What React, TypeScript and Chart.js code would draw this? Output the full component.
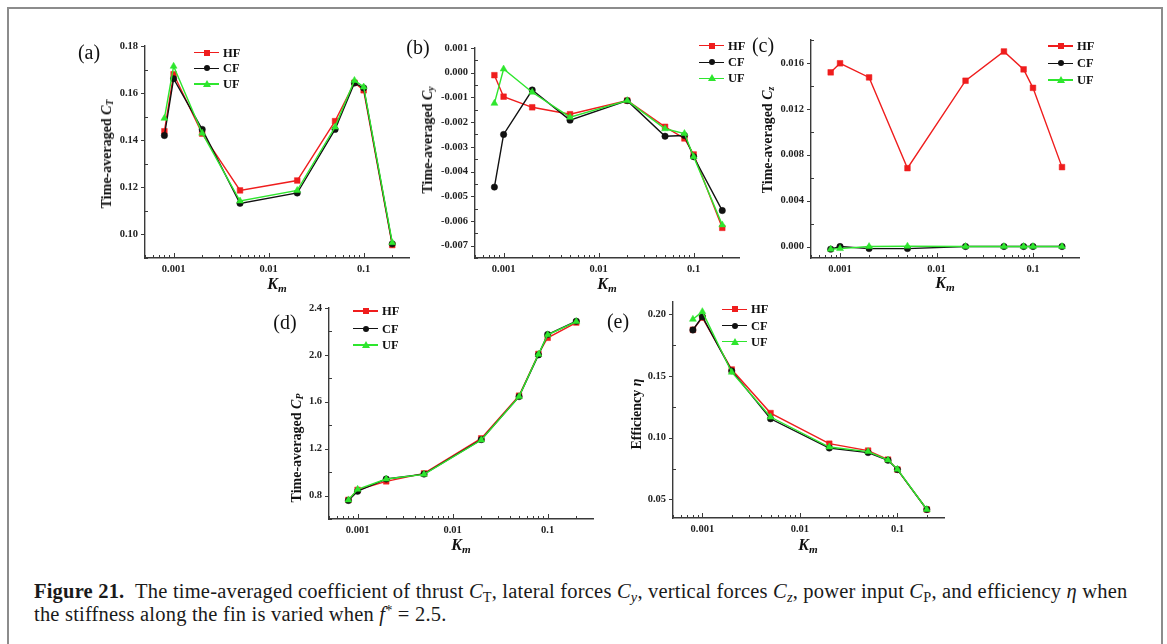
import React, { useEffect, useRef } from "react";
import { Chart, registerables } from "chart.js";

Chart.register(...registerables);

// ---------------- data ----------------
const km = [0.0008, 0.001, 0.002, 0.005, 0.02, 0.05, 0.08, 0.1, 0.2];
const seriesNames = ["HF", "CF", "UF"];

const ctHF = [0.1438, 0.168, 0.1428, 0.1187, 0.1229, 0.1481, 0.1644, 0.1612, 0.0955];
const ctCF = [0.142, 0.1661, 0.1446, 0.1132, 0.1176, 0.1446, 0.1643, 0.1622, 0.096];
const ctUF = [0.1493, 0.1714, 0.143, 0.1142, 0.1187, 0.1456, 0.1654, 0.1626, 0.0965];

const cyHF = [-0.0001, -0.00097, -0.0014, -0.00168, -0.00113, -0.00219, -0.00266, -0.00331, -0.00628];
const cyCF = [-0.00463, -0.0025, -0.0007, -0.00192, -0.00113, -0.00257, -0.00254, -0.0034, -0.00558];
const cyUF = [-0.00124, 0.00015, -0.00079, -0.0018, -0.00113, -0.00227, -0.00246, -0.0034, -0.00616];

const czHF = [0.01518, 0.01597, 0.01474, 0.00683, 0.01445, 0.017, 0.01544, 0.01383, 0.00692];
const czCF = [-0.00023, 0.0, -0.00018, -0.00018, 0.0, 0.0, 0.0, 0.0, 0.0];
const czUF = [-0.00023, -0.00018, 0.0, 0.00003, 0.0, 0.0, 0.0, 0.0, 0.0];

const cpHF = [0.763, 0.848, 0.921, 0.989, 1.288, 1.652, 2.008, 2.146, 2.276];
const cpCF = [0.758, 0.837, 0.941, 0.983, 1.277, 1.644, 2.0, 2.174, 2.287];
const cpUF = [0.763, 0.854, 0.941, 0.981, 1.274, 1.644, 2.005, 2.171, 2.284];

const etaHF = [0.1875, 0.1973, 0.1553, 0.12, 0.0952, 0.0896, 0.0823, 0.0742, 0.0419];
const etaCF = [0.1873, 0.1981, 0.1542, 0.1154, 0.0917, 0.088, 0.0818, 0.0742, 0.0419];
const etaUF = [0.196, 0.2022, 0.1531, 0.1168, 0.0925, 0.0888, 0.082, 0.0745, 0.0419];

// ---------------- ticks ----------------
const xMin = 0.0005;
const xMax = 0.3;
const xMajorTicks = [0.001, 0.01, 0.1];
const xMajorLabels = ["0.001", "0.01", "0.1"];
const xMinorTicks = [
  0.0005, 0.0006, 0.0007, 0.0008, 0.0009,
  0.002, 0.003, 0.004, 0.005, 0.006, 0.007, 0.008, 0.009,
  0.02, 0.03, 0.04, 0.05, 0.06, 0.07, 0.08, 0.09,
  0.2,
];

const ctYMajor = [0.1, 0.12, 0.14, 0.16, 0.18];
const ctYLabels = ["0.10", "0.12", "0.14", "0.16", "0.18"];
const ctYMinor = [0.09, 0.11, 0.13, 0.15, 0.17];

const cyYMajor = [-0.007, -0.006, -0.005, -0.004, -0.003, -0.002, -0.001, 0.0, 0.001];
const cyYLabels = ["-0.007", "-0.006", "-0.005", "-0.004", "-0.003", "-0.002", "-0.001", "0.000", "0.001"];
const cyYMinor = [-0.0075, -0.0065, -0.0055, -0.0045, -0.0035, -0.0025, -0.0015, -0.0005, 0.0005];

const czYMajor = [0.0, 0.004, 0.008, 0.012, 0.016];
const czYLabels = ["0.000", "0.004", "0.008", "0.012", "0.016"];
const czYMinor = [0.002, 0.006, 0.01, 0.014, 0.018];

const cpYMajor = [0.8, 1.2, 1.6, 2.0, 2.4];
const cpYLabels = ["0.8", "1.2", "1.6", "2.0", "2.4"];
const cpYMinor = [0.6, 1.0, 1.4, 1.8, 2.2];

const etaYMajor = [0.05, 0.1, 0.15, 0.2];
const etaYLabels = ["0.05", "0.10", "0.15", "0.20"];
const etaYMinor = [0.075, 0.125, 0.175];

// ---------------- styles ----------------
const RED = "#ef1d1d";
const BLACK = "#111111";
const GREEN = "#2ee62e";
const seriesColors = [RED, BLACK, GREEN];
const seriesPoint = ["rect", "circle", "triangle"];
const seriesRadius = [4, 3.2, 4];
const AXIS = "#3a3a3a";
const SERIF = "'Liberation Serif', 'DejaVu Serif', serif";

type Panel = {
  key: string;
  area: { l: number; t: number; r: number; b: number };
  yMin: number;
  yMax: number;
  yMajor: number[];
  yLabels: string[];
  yMinor: number[];
  data: number[][];
};

const panels: Panel[] = [
  { key: "a", area: { l: 145, t: 46, r: 409, b: 258 }, yMin: 0.09, yMax: 0.18, yMajor: ctYMajor, yLabels: ctYLabels, yMinor: ctYMinor, data: [ctHF, ctCF, ctUF] },
  { key: "b", area: { l: 475, t: 48, r: 739, b: 258 }, yMin: -0.0075, yMax: 0.001, yMajor: cyYMajor, yLabels: cyYLabels, yMinor: cyYMinor, data: [cyHF, cyCF, cyUF] },
  { key: "c", area: { l: 811, t: 40, r: 1079, b: 258 }, yMin: -0.001, yMax: 0.018, yMajor: czYMajor, yLabels: czYLabels, yMinor: czYMinor, data: [czHF, czCF, czUF] },
  { key: "d", area: { l: 329, t: 308, r: 593, b: 519 }, yMin: 0.6, yMax: 2.4, yMajor: cpYMajor, yLabels: cpYLabels, yMinor: cpYMinor, data: [cpHF, cpCF, cpUF] },
  { key: "e", area: { l: 673, t: 302, r: 944, b: 518 }, yMin: 0.035, yMax: 0.21, yMajor: etaYMajor, yLabels: etaYLabels, yMinor: etaYMinor, data: [etaHF, etaCF, etaUF] },
];

const PT = 14;
const PR = 16;
const YW = 70;
const XH = 26;

function ChartPanel({ p }: { p: Panel }) {
  const ref = useRef<HTMLCanvasElement | null>(null);
  const w = p.area.r - p.area.l + YW + PR;
  const h = p.area.b - p.area.t + PT + XH;
  useEffect(() => {
    if (!ref.current) return;
    const tickPlugin = {
      id: "tickMarks",
      afterDraw(chart: any) {
        const { ctx, chartArea, scales } = chart;
        ctx.save();
        ctx.strokeStyle = AXIS;
        ctx.lineWidth = 1;
        const line = (x1: number, y1: number, x2: number, y2: number) => {
          ctx.beginPath();
          ctx.moveTo(x1, y1);
          ctx.lineTo(x2, y2);
          ctx.stroke();
        };
        xMajorTicks.forEach((v) => {
          const px = Math.round(scales.x.getPixelForValue(v)) + 0.5;
          line(px, chartArea.bottom, px, chartArea.bottom - 5);
        });
        xMinorTicks.forEach((v) => {
          const px = Math.round(scales.x.getPixelForValue(v)) + 0.5;
          line(px, chartArea.bottom, px, chartArea.bottom - 3);
        });
        p.yMajor.forEach((v) => {
          const py = Math.round(scales.y.getPixelForValue(v)) + 0.5;
          line(chartArea.left, py, chartArea.left - 4, py);
        });
        p.yMinor.forEach((v) => {
          const py = Math.round(scales.y.getPixelForValue(v)) + 0.5;
          line(chartArea.left, py, chartArea.left + 3, py);
        });
        ctx.restore();
      },
    };
    const font = { family: SERIF, size: 10.5, weight: "bold" as const };
    const chart = new Chart(ref.current, {
      type: "line",
      data: {
        datasets: seriesNames.map((name, si) => ({
          label: name,
          data: km.map((x, i) => ({ x, y: p.data[si][i] })),
          borderColor: seriesColors[si],
          backgroundColor: seriesColors[si],
          pointBackgroundColor: seriesColors[si],
          pointBorderColor: seriesColors[si],
          pointBorderWidth: 0.5,
          borderWidth: 1.4,
          pointStyle: seriesPoint[si] as any,
          pointRadius: seriesRadius[si],
          order: 3 - si,
          tension: 0,
        })),
      },
      options: {
        responsive: false,
        animation: false,
        layout: { padding: { top: PT, right: PR, left: 0, bottom: 0 } },
        plugins: { legend: { display: false }, tooltip: { enabled: false } },
        scales: {
          x: {
            type: "logarithmic",
            min: xMin,
            max: xMax,
            bounds: "data",
            afterBuildTicks: (s: any) => {
              s.ticks = [...xMinorTicks, ...xMajorTicks].sort((a, b) => a - b).map((v) => ({ value: v }));
            },
            afterFit: (s: any) => {
              s.height = XH;
            },
            ticks: {
              autoSkip: false,
              maxRotation: 0,
              minRotation: 0,
              padding: 5,
              color: "#222",
              font,
              callback: (v: any) => {
                const i = xMajorTicks.indexOf(Number(v));
                return i >= 0 ? xMajorLabels[i] : "";
              },
            },
            grid: { display: false, drawTicks: false },
            border: { display: true, color: AXIS, width: 1.4 },
          },
          y: {
            type: "linear",
            min: p.yMin,
            max: p.yMax,
            bounds: "data",
            afterBuildTicks: (s: any) => {
              s.ticks = [...p.yMinor, ...p.yMajor].sort((a, b) => a - b).map((v) => ({ value: v }));
            },
            afterFit: (s: any) => {
              s.width = YW;
            },
            ticks: {
              autoSkip: false,
              padding: 7,
              color: "#222",
              font,
              callback: (v: any) => {
                const i = p.yMajor.indexOf(Number(v));
                return i >= 0 ? p.yLabels[i] : "";
              },
            },
            grid: { display: false, drawTicks: false },
            border: { display: true, color: AXIS, width: 1.4 },
          },
        },
      },
      plugins: [tickPlugin],
    });
    return () => chart.destroy();
  }, [p]);
  return (
    <canvas
      ref={ref}
      width={w}
      height={h}
      style={{ position: "absolute", left: p.area.l - YW, top: p.area.t - PT, width: w, height: h }}
    />
  );
}

function Txt({ x, y, children, style }: { x: number; y: number; children: any; style?: any }) {
  return (
    <div
      style={{
        position: "absolute",
        left: x,
        top: y,
        transform: "translate(-50%, -50%)",
        whiteSpace: "nowrap",
        fontFamily: SERIF,
        ...style,
      }}
    >
      {children}
    </div>
  );
}

function YTitle({ x, y, children }: { x: number; y: number; children: any }) {
  return (
    <div
      style={{
        position: "absolute",
        left: x,
        top: y,
        transform: "translate(-50%, -50%) rotate(-90deg)",
        whiteSpace: "nowrap",
        fontFamily: SERIF,
        fontWeight: "bold",
        fontSize: 14,
        color: "#111",
        lineHeight: "16px",
      }}
    >
      {children}
    </div>
  );
}

const subStyle = { fontSize: "0.7em", verticalAlign: "-0.25em", lineHeight: 0 } as any;

function Km({ x, y }: { x: number; y: number }) {
  return (
    <Txt x={x} y={y} style={{ fontWeight: "bold", fontSize: 16, color: "#111" }}>
      <i>K</i>
      <sub style={subStyle}>
        <i>m</i>
      </sub>
    </Txt>
  );
}

function Marker({ idx }: { idx: number }) {
  const c = seriesColors[idx];
  if (idx === 0)
    return <div style={{ position: "absolute", left: -3, top: -3, width: 6, height: 6, background: c }} />;
  if (idx === 1)
    return <div style={{ position: "absolute", left: -3, top: -3, width: 6, height: 6, borderRadius: 3, background: c }} />;
  return (
    <div
      style={{
        position: "absolute",
        left: -4,
        top: -4,
        width: 0,
        height: 0,
        borderLeft: "4px solid transparent",
        borderRight: "4px solid transparent",
        borderBottom: `7px solid ${c}`,
      }}
    />
  );
}

function Legend({ x, ys }: { x: number; ys: number[] }) {
  return (
    <>
      {seriesNames.map((n, i) => (
        <React.Fragment key={n}>
          <div style={{ position: "absolute", left: x, top: ys[i] - 0.75, width: 25, height: 1.5, background: seriesColors[i] }} />
          <div style={{ position: "absolute", left: x + 12.5, top: ys[i] }}>
            <Marker idx={i} />
          </div>
          <div
            style={{
              position: "absolute",
              left: x + 29,
              top: ys[i],
              transform: "translateY(-50%)",
              fontFamily: SERIF,
              fontWeight: "bold",
              fontSize: 12.5,
              color: "#111",
              lineHeight: "14px",
            }}
          >
            {n}
          </div>
        </React.Fragment>
      ))}
    </>
  );
}

export default function App() {
  const plab = { fontSize: 20, color: "#111" };
  return (
    <div style={{ position: "absolute", left: 0, top: 0, width: 1167, height: 644, overflow: "hidden", background: "#fff" }}>
      <div
        style={{
          position: "absolute",
          left: 7,
          top: 7,
          width: 1152,
          height: 700,
          border: "2px solid #8c8c8c",
        }}
      />
      {panels.map((p) => (
        <ChartPanel key={p.key} p={p} />
      ))}

      <Txt x={89} y={52} style={plab}>(a)</Txt>
      <Txt x={418} y={47} style={plab}>(b)</Txt>
      <Txt x={763} y={45} style={plab}>(c)</Txt>
      <Txt x={285} y={322} style={plab}>(d)</Txt>
      <Txt x={618} y={321} style={plab}>(e)</Txt>

      <YTitle x={107} y={154}>
        Time-averaged <i>C</i>
        <sub style={subStyle}><i>T</i></sub>
      </YTitle>
      <YTitle x={428} y={140}>
        Time-averaged <i>C</i>
        <sub style={subStyle}><i>y</i></sub>
      </YTitle>
      <YTitle x={768} y={140}>
        Time-averaged <i>C</i>
        <sub style={subStyle}><i>z</i></sub>
      </YTitle>
      <YTitle x={297} y={448}>
        Time-averaged <i>C</i>
        <sub style={subStyle}><i>P</i></sub>
      </YTitle>
      <YTitle x={637} y={414}>
        Efficiency <i>η</i>
      </YTitle>

      <Km x={277} y={284} />
      <Km x={607} y={284} />
      <Km x={945} y={283} />
      <Km x={461} y={545} />
      <Km x={808} y={545} />

      <Legend x={194} ys={[52.7, 68.3, 84]} />
      <Legend x={699} ys={[45.7, 62.3, 78.3]} />
      <Legend x={1048} ys={[46, 63.3, 80]} />
      <Legend x={353} ys={[311, 328.5, 345]} />
      <Legend x={722} ys={[309.3, 325.7, 341.7]} />

      <div
        style={{
          position: "absolute",
          left: 34,
          top: 580,
          fontFamily: SERIF,
          fontSize: 20.5,
          letterSpacing: "0.2px",
          lineHeight: "23px",
          color: "#1a1a1a",
          whiteSpace: "nowrap",
        }}
      >
        <b>Figure 21.</b>&nbsp;&nbsp;The time-averaged coefficient of thrust <i>C</i>
        <sub style={subStyle}>T</sub>, lateral forces <i>C</i>
        <sub style={subStyle}><i>y</i></sub>, vertical forces <i>C</i>
        <sub style={subStyle}><i>z</i></sub>, power input <i>C</i>
        <sub style={subStyle}>P</sub>, and efficiency <i>η</i> when
        <br />
        the stiffness along the fin is varied when <i>f</i>
        <sup style={{ fontSize: "0.7em", verticalAlign: "0.45em", lineHeight: 0 }}>*</sup> = 2.5.
      </div>
    </div>
  );
}
